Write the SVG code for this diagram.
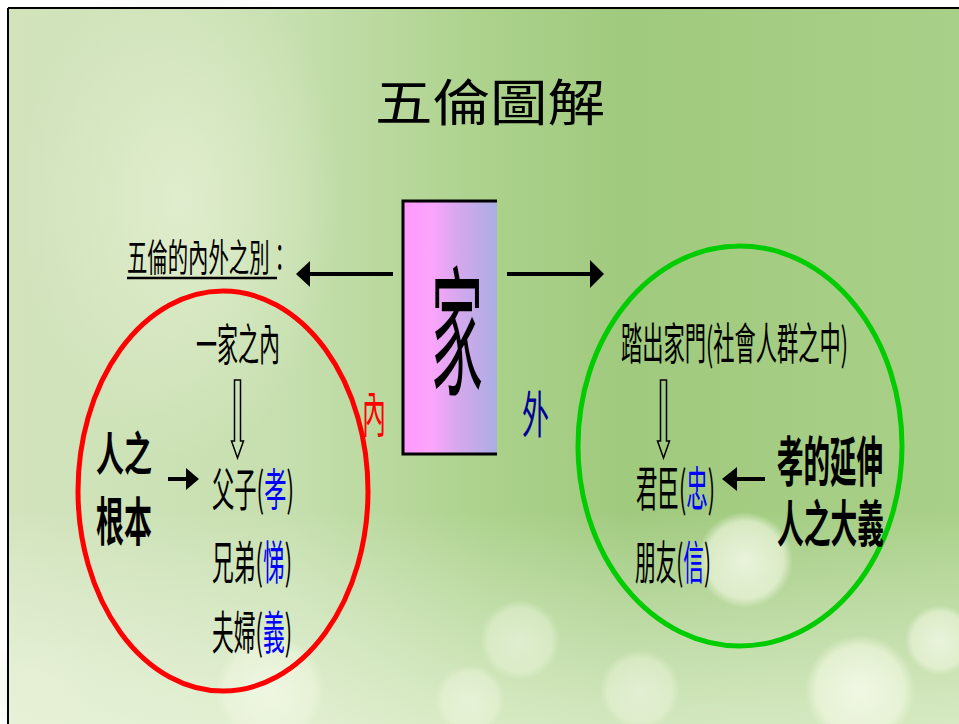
<svg xmlns="http://www.w3.org/2000/svg" width="959" height="724" viewBox="0 0 959 724">
<defs>
<linearGradient id="bg" x1="0" y1="0" x2="1" y2="0">
<stop offset="0" stop-color="#d3e4bd"/>
<stop offset="0.3" stop-color="#c6dfae"/>
<stop offset="0.5" stop-color="#acd28c"/>
<stop offset="0.65" stop-color="#a0ca7e"/>
<stop offset="1" stop-color="#a9d088"/>
</linearGradient>
<linearGradient id="bgv" x1="0" y1="0" x2="0" y2="1">
<stop offset="0" stop-color="#ffffff" stop-opacity="0"/>
<stop offset="0.7" stop-color="#ffffff" stop-opacity="0"/>
<stop offset="1" stop-color="#f4fae8" stop-opacity="0.6"/>
</linearGradient>
<radialGradient id="bok">
<stop offset="0" stop-color="#fbfdf2" stop-opacity="0.95"/>
<stop offset="0.8" stop-color="#f2f8e2" stop-opacity="0.8"/>
<stop offset="1" stop-color="#eef6dc" stop-opacity="0"/>
</radialGradient>
<radialGradient id="glow">
<stop offset="0" stop-color="#e6f0d4" stop-opacity="0.8"/>
<stop offset="1" stop-color="#e6f0d4" stop-opacity="0"/>
</radialGradient>
<linearGradient id="box" x1="0" y1="0" x2="1" y2="0">
<stop offset="0" stop-color="#ff99ff"/>
<stop offset="0.3" stop-color="#fca4fc"/>
<stop offset="0.6" stop-color="#d4a8ec"/>
<stop offset="1" stop-color="#aaaee4"/>
</linearGradient>
<style>
.t{font-family:"Noto Sans CJK TC","Noto Sans CJK SC",sans-serif;fill:#000}
.b{font-weight:bold}
.blue{fill:#0000ff}
.ln{stroke:#000;stroke-width:4;fill:none}
.hollow{fill:none;stroke:#000;stroke-width:1.5}
</style>
</defs>
<rect x="0" y="0" width="959" height="724" fill="#ffffff"/>
<rect x="8" y="8" width="951" height="716" fill="url(#bg)"/>
<ellipse cx="180" cy="200" rx="160" ry="260" fill="url(#glow)"/>
<rect x="8" y="8" width="951" height="716" fill="url(#bgv)"/>
<g id="bokeh">
<circle cx="40" cy="690" r="60" fill="url(#glow)"/>
<circle cx="270" cy="690" r="55" fill="url(#bok)" opacity="0.6"/>
<circle cx="520" cy="640" r="40" fill="url(#bok)" opacity="0.5"/>
<circle cx="470" cy="700" r="35" fill="url(#bok)" opacity="0.5"/>
<circle cx="745" cy="560" r="48" fill="url(#bok)" opacity="0.8"/>
<circle cx="860" cy="690" r="55" fill="url(#bok)" opacity="0.8"/>
<circle cx="940" cy="640" r="35" fill="url(#bok)" opacity="0.7"/>
<circle cx="640" cy="690" r="40" fill="url(#bok)" opacity="0.5"/>
</g>
<line x1="8" y1="8" x2="959" y2="8" stroke="#000" stroke-width="2"/>
<line x1="8" y1="8" x2="8" y2="724" stroke="#000" stroke-width="2"/>

<text id="title" class="t" x="375" y="121" font-size="50" textLength="230" lengthAdjust="spacingAndGlyphs">五倫圖解</text>

<g id="home">
<rect x="403" y="201" width="94" height="253" fill="url(#box)"/>
<path d="M497,201 H403 V454 H497" fill="none" stroke="#000" stroke-width="3"/>
<text class="t" x="431" y="384" font-size="140" textLength="52" lengthAdjust="spacingAndGlyphs">家</text>
</g>

<g id="heading">
<text class="t" x="127" y="271" font-size="38" textLength="163" lengthAdjust="spacingAndGlyphs">五倫的內外之別：</text>
<line x1="127" y1="278" x2="277" y2="278" stroke="#000" stroke-width="2.5"/>
</g>

<g id="inner">
<ellipse cx="223" cy="491" rx="145" ry="200" fill="none" stroke="#ff0000" stroke-width="5"/>
<text class="t" x="196" y="361" font-size="44" textLength="84" lengthAdjust="spacingAndGlyphs">一家之內</text>
<text class="t b" x="96" y="470" font-size="46" textLength="56" lengthAdjust="spacingAndGlyphs">人之</text>
<text class="t b" x="96" y="541" font-size="52" textLength="56" lengthAdjust="spacingAndGlyphs">根本</text>
<text class="t" x="212" y="506" font-size="46" textLength="82" lengthAdjust="spacingAndGlyphs">父子(<tspan class="blue">孝</tspan>)</text>
<text class="t" x="212" y="579" font-size="46" textLength="80" lengthAdjust="spacingAndGlyphs">兄弟(<tspan class="blue">悌</tspan>)</text>
<text class="t" x="212" y="649" font-size="46" textLength="80" lengthAdjust="spacingAndGlyphs">夫婦(<tspan class="blue">義</tspan>)</text>
</g>

<g id="nei"><text class="t" x="362" y="433" font-size="50" style="fill:#ff0000" textLength="24" lengthAdjust="spacingAndGlyphs">內</text></g>
<g id="wai"><text class="t" x="522" y="433" font-size="50" style="fill:#000099" textLength="27" lengthAdjust="spacingAndGlyphs">外</text></g>

<g id="outer">
<ellipse cx="740" cy="446" rx="162" ry="200" fill="none" stroke="#00cc00" stroke-width="5"/>
<text class="t" x="621" y="360" font-size="44" textLength="227" lengthAdjust="spacingAndGlyphs">踏出家門(社會人群之中)</text>
<text class="t" x="636" y="506" font-size="48" textLength="79" lengthAdjust="spacingAndGlyphs">君臣(<tspan class="blue">忠</tspan>)</text>
<text class="t" x="635" y="579" font-size="46" textLength="76" lengthAdjust="spacingAndGlyphs">朋友(<tspan class="blue">信</tspan>)</text>
<text class="t b" x="777" y="482" font-size="54" textLength="106" lengthAdjust="spacingAndGlyphs">孝的延伸</text>
<text class="t b" x="777" y="542" font-size="50" textLength="107" lengthAdjust="spacingAndGlyphs">人之大義</text>
</g>

<g id="connectors">
<line class="ln" x1="393" y1="274" x2="306" y2="274"/>
<path d="M296,274 L310,261 L310,287 Z" fill="#000"/>
<line class="ln" x1="507" y1="274" x2="594" y2="274"/>
<path d="M604,274 L590,260 L590,288 Z" fill="#000"/>
<line class="ln" x1="168" y1="479" x2="188" y2="479" stroke-width="5"/>
<path d="M199,479 L186,468 L186,490 Z" fill="#000"/>
<line class="ln" x1="765" y1="479" x2="735" y2="479"/>
<path d="M722,479 L737,467 L737,491 Z" fill="#000"/>
<path class="hollow" d="M234.5,380 H240.5 V441 H243.5 L237.5,458 L231.5,441 H234.5 Z"/>
<path class="hollow" d="M660.5,380 H666.5 V441 H669.5 L663.5,458 L657.5,441 H660.5 Z"/>
</g>
</svg>
